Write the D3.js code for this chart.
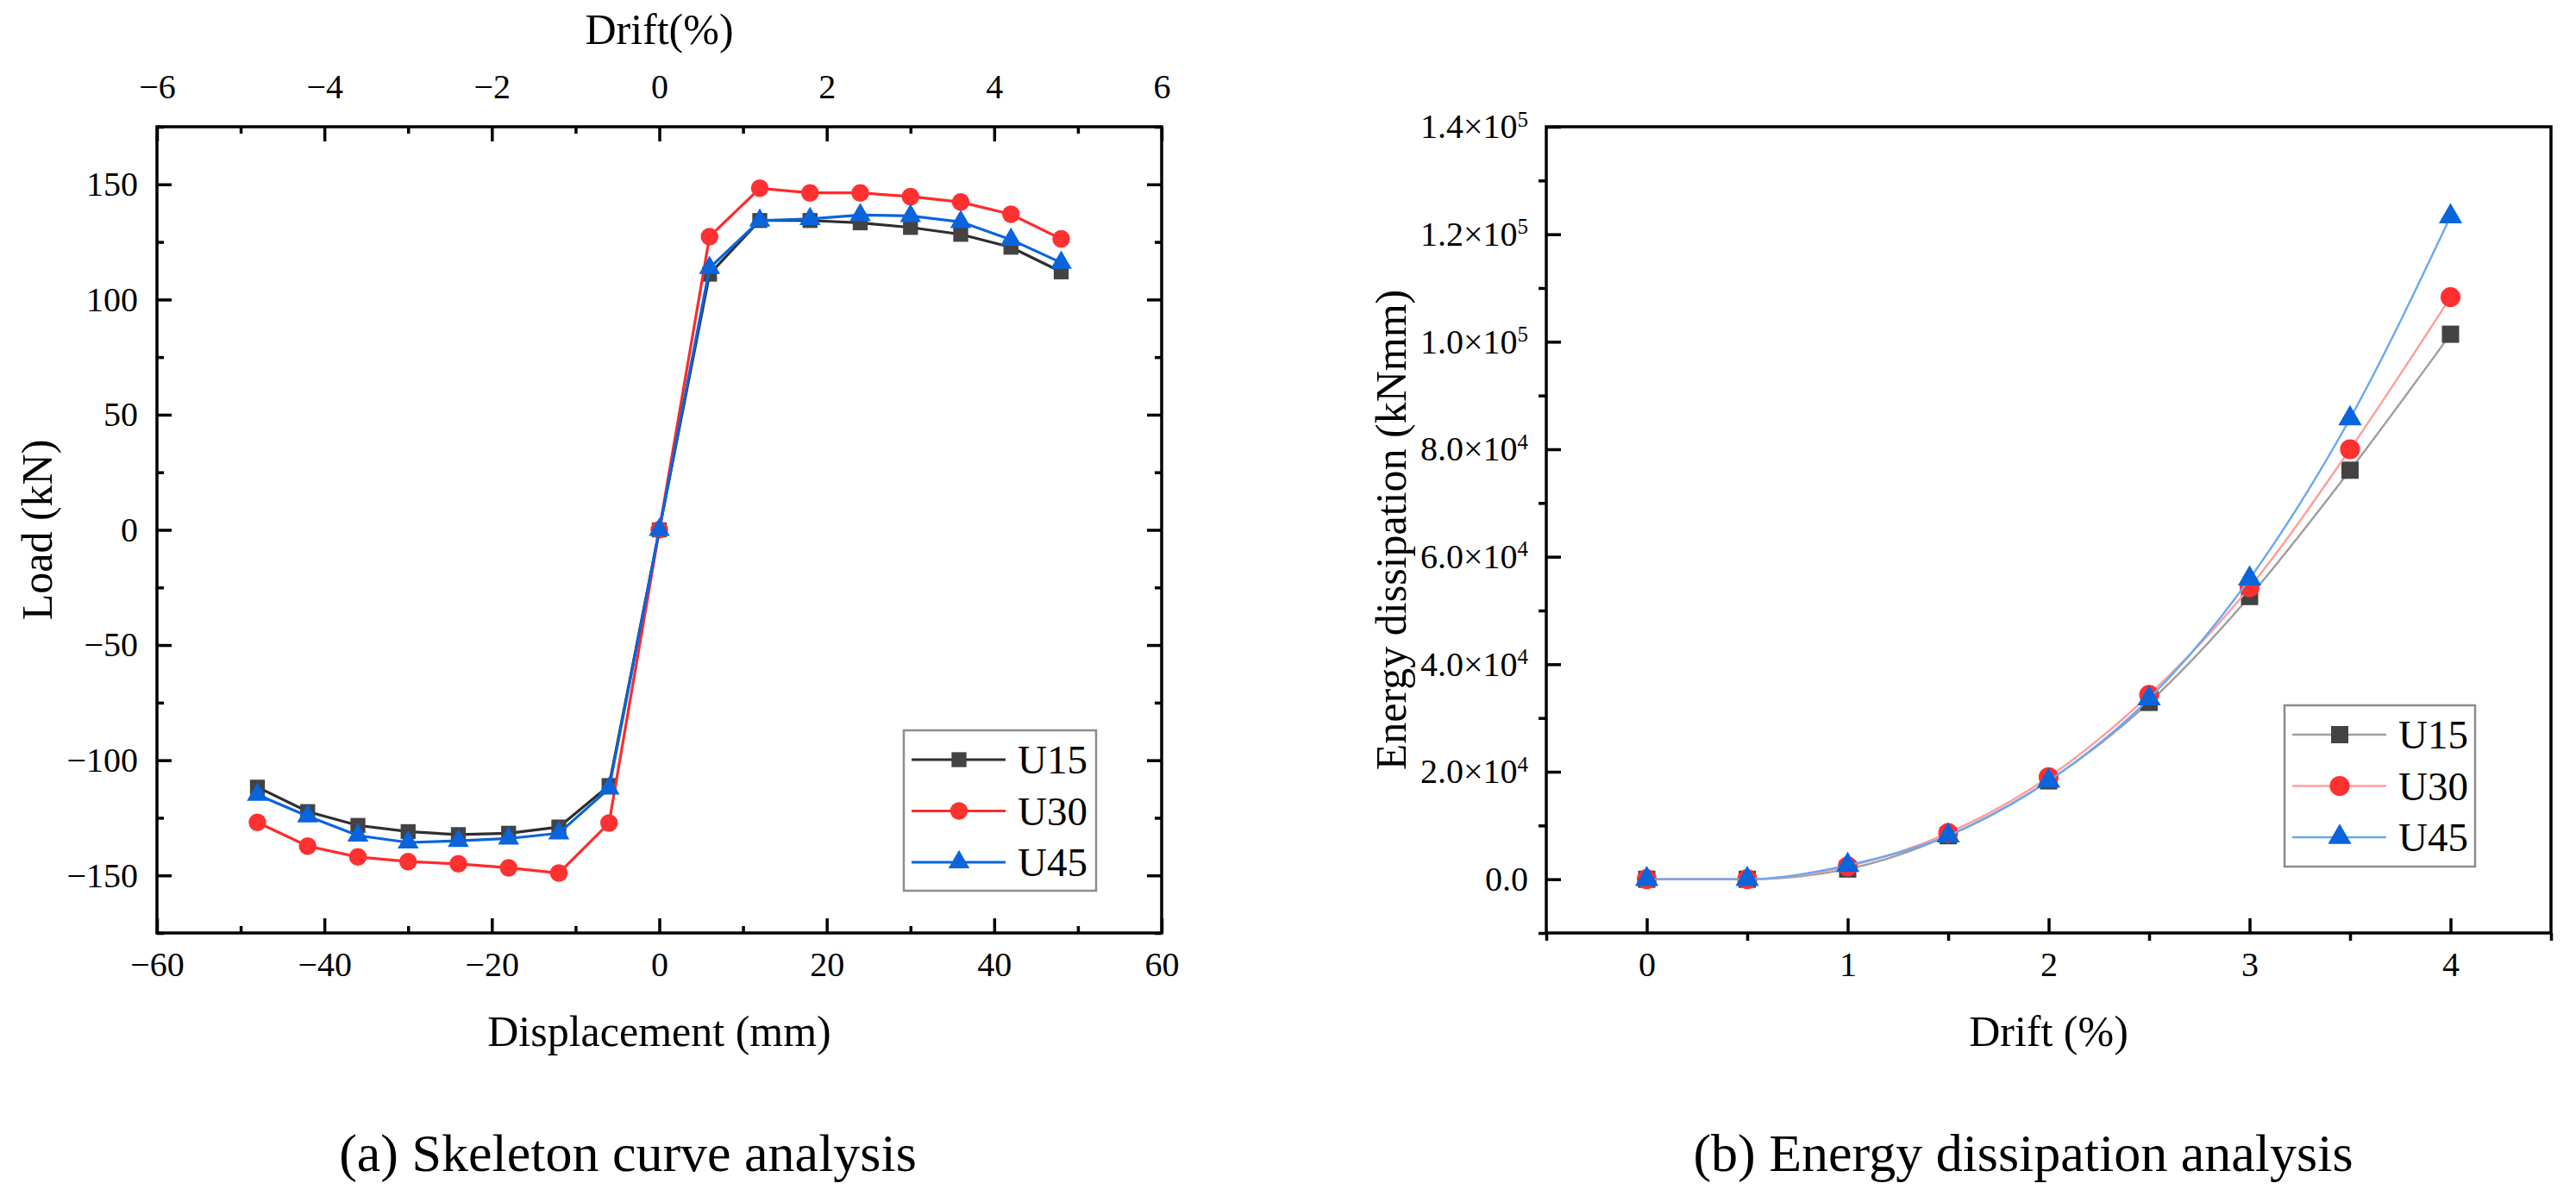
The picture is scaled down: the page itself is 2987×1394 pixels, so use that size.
<!DOCTYPE html>
<html>
<head>
<meta charset="utf-8">
<script src="https://cdn.jsdelivr.net/npm/d3@7"></script>
<style>
    body { margin: 0; background: #fff; }
    svg { display: block; }
    text { font-family: "Liberation Serif", "Times New Roman", serif; }
</style>
</head>
<body>
<svg id="chart" width="2987" height="1394"></svg>
<script>
// Skeleton curve: displacement (mm) vs load (kN)
const dispMm = [-48, -42, -36, -30, -24, -18, -12, -6, 0, 6, 12, 18, 24, 30, 36, 42, 48];
const loadU15 = [-111.7, -122.3, -128.3, -131, -132.3, -131.7, -129, -111, 0, 111, 134.3, 134.3, 133.3, 131.3, 128.3, 122.7, 112];
const loadU30 = [-127, -137.3, -142, -144, -145, -146.7, -149, -127.3, 0, 127.3, 148.3, 146.3, 146.3, 144.7, 142.3, 137, 126.3];
const loadU45 = [-115, -124.3, -132.7, -135.7, -135, -134, -131.7, -112.3, 0, 113.7, 134.3, 135, 136.7, 136.3, 133.7, 126, 116];

// Energy dissipation: drift (%) vs energy (kNmm)
const driftPct = [0, 0.5, 1, 1.5, 2, 2.5, 3, 3.5, 4];
const energyU15 = [0, 0, 1900, 8100, 18300, 32900, 52600, 76100, 101400];
const energyU30 = [0, 0, 2400, 8600, 19000, 34300, 54300, 80000, 108300];
const energyU45 = [0, 0, 2600, 8100, 18300, 33600, 55900, 85700, 123300];

const seriesNames = ["U15", "U30", "U45"];

const FONT = '"Liberation Serif", "Times New Roman", serif';

const svg = d3.select("#chart").attr("font-family", FONT);

const markerShapes = [d3.symbolSquare, d3.symbolCircle, d3.symbolTriangle];
const markerColors = ["#434343", "#ff3030", "#0a64dc"];

function frame(g, b) {
    g.append("rect")
        .attr("x", b.x0).attr("y", b.y0)
        .attr("width", b.x1 - b.x0).attr("height", b.y1 - b.y0)
        .attr("fill", "none").attr("stroke", "#000").attr("stroke-width", 3.5);
}

function styleAxis(sel, fontSize) {
    sel.attr("font-family", FONT);
    sel.select(".domain").remove();
    sel.selectAll(".tick line").attr("stroke", "#000").attr("stroke-width", 3.5);
    sel.selectAll(".tick text").attr("fill", "#000").attr("font-size", fontSize);
}

function drawSeries(g, xs, ys, x, y, opts) {
    const line = d3.line()
        .x((d, i) => x(xs[i]))
        .y(d => y(d))
        .curve(opts.curve);
    g.append("path")
        .datum(ys)
        .attr("d", line)
        .attr("fill", "none")
        .attr("stroke", opts.lineColor)
        .attr("stroke-width", opts.lineWidth);
    g.append("g")
        .selectAll("path")
        .data(ys)
        .join("path")
        .attr("transform", (d, i) => `translate(${x(xs[i])},${y(d)})`)
        .attr("d", d3.symbol(opts.shape, opts.size))
        .attr("fill", opts.fill);
}

function drawLegend(g, box, lineColors, lineWidth, sizes) {
    g.append("rect")
        .attr("x", box.x).attr("y", box.y)
        .attr("width", box.w).attr("height", box.h)
        .attr("fill", "#fff").attr("stroke", "#8c8c8c").attr("stroke-width", 2.5);
    seriesNames.forEach((name, i) => {
        const cy = box.y + 34 + i * 59.5;
        g.append("line")
            .attr("x1", box.x + 9).attr("x2", box.x + 118)
            .attr("y1", cy).attr("y2", cy)
            .attr("stroke", lineColors[i]).attr("stroke-width", lineWidth);
        g.append("path")
            .attr("transform", `translate(${box.x + 64},${cy})`)
            .attr("d", d3.symbol(markerShapes[i], sizes[i]))
            .attr("fill", markerColors[i]);
        g.append("text")
            .attr("x", box.x + 132).attr("y", cy)
            .attr("dy", "0.35em")
            .attr("font-size", 47)
            .text(name);
    });
}

// ---------- (a) skeleton curve ----------
function drawSkeleton() {
    const b = {x0: 182, x1: 1347, y0: 147, y1: 1082};
    const g = svg.append("g");
    const x = d3.scaleLinear().domain([-60, 60]).range([b.x0, b.x1]);
    const xDrift = d3.scaleLinear().domain([-6, 6]).range([b.x0, b.x1]);
    const y = d3.scaleLinear().domain([-175, 175]).range([b.y1, b.y0]);

    // minor ticks
    g.append("g").attr("transform", `translate(0,${b.y1})`)
        .call(d3.axisBottom(x).tickValues(d3.range(-50, 60, 20)).tickSize(-8).tickFormat(""))
        .call(styleAxis, 40);
    g.append("g").attr("transform", `translate(0,${b.y0})`)
        .call(d3.axisTop(xDrift).tickValues(d3.range(-5, 6, 2)).tickSize(-8).tickFormat(""))
        .call(styleAxis, 40);
    g.append("g").attr("transform", `translate(${b.x0},0)`)
        .call(d3.axisLeft(y).tickValues(d3.range(-175, 180, 50)).tickSize(-8).tickFormat(""))
        .call(styleAxis, 40);
    g.append("g").attr("transform", `translate(${b.x1},0)`)
        .call(d3.axisRight(y).tickValues(d3.range(-175, 180, 50)).tickSize(-8).tickFormat(""))
        .call(styleAxis, 40);

    // major ticks
    g.append("g").attr("transform", `translate(0,${b.y1})`)
        .call(d3.axisBottom(x).tickValues(d3.range(-60, 61, 20)).tickSize(-17).tickPadding(22))
        .call(styleAxis, 40);
    g.append("g").attr("transform", `translate(0,${b.y0})`)
        .call(d3.axisTop(xDrift).tickValues(d3.range(-6, 7, 2)).tickSize(-17).tickPadding(33))
        .call(styleAxis, 40);
    g.append("g").attr("transform", `translate(${b.x0},0)`)
        .call(d3.axisLeft(y).tickValues(d3.range(-150, 151, 50)).tickSize(-17).tickPadding(22))
        .call(styleAxis, 40);
    g.append("g").attr("transform", `translate(${b.x1},0)`)
        .call(d3.axisRight(y).tickValues(d3.range(-150, 151, 50)).tickSize(-17).tickFormat(""))
        .call(styleAxis, 40);

    frame(g, b);

    const lineColors = ["#2e2e2e", "#ff2a2a", "#0a64dc"];
    [loadU15, loadU30, loadU45].forEach((ys, i) => {
        drawSeries(g, dispMm, ys, x, y, {
            curve: d3.curveLinear,
            lineColor: lineColors[i],
            lineWidth: 3.2,
            shape: markerShapes[i],
            size: [300, 330, 260][i],
            fill: markerColors[i]
        });
    });

    drawLegend(g, {x: 1048, y: 847, w: 223, h: 186}, lineColors, 3.2, [300, 330, 260]);

    g.append("text")
        .attr("x", (b.x0 + b.x1) / 2).attr("y", 51)
        .attr("text-anchor", "middle").attr("font-size", 50)
        .text("Drift(%)");
    g.append("text")
        .attr("x", (b.x0 + b.x1) / 2).attr("y", 1213)
        .attr("text-anchor", "middle").attr("font-size", 50)
        .text("Displacement (mm)");
    g.append("text")
        .attr("transform", `translate(42,${(b.y0 + b.y1) / 2}) rotate(-90)`)
        .attr("text-anchor", "middle").attr("dy", "0.35em").attr("font-size", 50)
        .text("Load (kN)");
    g.append("text")
        .attr("x", 728).attr("y", 1358)
        .attr("text-anchor", "middle").attr("font-size", 62)
        .text("(a) Skeleton curve analysis");
}

// ---------- (b) energy dissipation ----------
function sciLabel(d) {
    const t = d3.select(this);
    t.text("");
    if (d === 0) {
        t.text("0.0");
        return;
    }
    const e = Math.floor(Math.log10(d));
    const m = d / Math.pow(10, e);
    t.append("tspan").text(m.toFixed(1) + "×10");
    t.append("tspan").attr("dy", "-0.55em").attr("font-size", 25).text(e);
}

function drawEnergy() {
    const b = {x0: 1793, x1: 2958, y0: 147, y1: 1082};
    const g = svg.append("g");
    const x = d3.scaleLinear().domain([-0.5, 4.5]).range([b.x0, b.x1]);
    const y = d3.scaleLinear().domain([-10000, 140000]).range([b.y1, b.y0]);

    // minor ticks point outward, major ticks inward
    g.append("g").attr("transform", `translate(0,${b.y1})`)
        .call(d3.axisBottom(x).tickValues(d3.range(-0.5, 4.6, 1)).tickSize(9).tickFormat(""))
        .call(styleAxis, 40);
    g.append("g").attr("transform", `translate(${b.x0},0)`)
        .call(d3.axisLeft(y).tickValues(d3.range(-10000, 140000, 20000)).tickSize(9).tickFormat(""))
        .call(styleAxis, 40);

    g.append("g").attr("transform", `translate(0,${b.y1})`)
        .call(d3.axisBottom(x).tickValues(d3.range(0, 4.1, 1)).tickSize(-17).tickPadding(22)
            .tickFormat(d3.format("d")))
        .call(styleAxis, 40);
    const yAxis = g.append("g").attr("transform", `translate(${b.x0},0)`)
        .call(d3.axisLeft(y).tickValues(d3.range(0, 140001, 20000)).tickSize(-17).tickPadding(21))
        .call(styleAxis, 40);
    yAxis.selectAll(".tick text").each(sciLabel);

    frame(g, b);

    const lineColors = ["#9e9e9e", "#ff9c9c", "#6aa8f2"];
    [energyU15, energyU30, energyU45].forEach((ys, i) => {
        drawSeries(g, driftPct, ys, x, y, {
            curve: d3.curveMonotoneX,
            lineColor: lineColors[i],
            lineWidth: 2.4,
            shape: markerShapes[i],
            size: [400, 420, 320][i],
            fill: markerColors[i]
        });
    });

    drawLegend(g, {x: 2649, y: 818, w: 221, h: 187}, lineColors, 2.4, [400, 420, 320]);

    g.append("text")
        .attr("x", (b.x0 + b.x1) / 2).attr("y", 1213)
        .attr("text-anchor", "middle").attr("font-size", 50)
        .text("Drift (%)");
    g.append("text")
        .attr("transform", `translate(1612,${(b.y0 + b.y1) / 2}) rotate(-90)`)
        .attr("text-anchor", "middle").attr("dy", "0.35em").attr("font-size", 50)
        .text("Energy dissipation (kNmm)");
    g.append("text")
        .attr("x", 2346).attr("y", 1358)
        .attr("text-anchor", "middle").attr("font-size", 62)
        .text("(b) Energy dissipation analysis");
}

drawSkeleton();
drawEnergy();
</script>
</body>
</html>
